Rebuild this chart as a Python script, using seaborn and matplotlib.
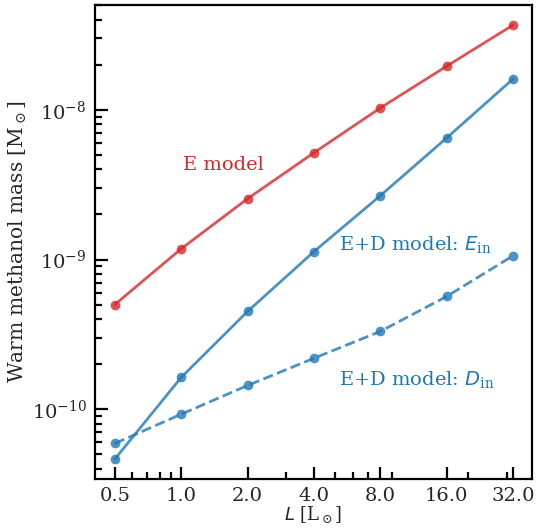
import matplotlib
matplotlib.use("Agg")
import matplotlib.pyplot as plt
import matplotlib.ticker as mticker
import seaborn as sns
import pandas as pd

# luminosities (L_sun)
lum = [0.5, 1.0, 2.0, 4.0, 8.0, 16.0, 32.0]
# warm methanol mass (M_sun)
mass_e = [5.0e-10, 1.18e-9, 2.55e-9, 5.17e-9, 1.03e-8, 1.96e-8, 3.69e-8]
mass_ed_ein = [4.64e-11, 1.63e-10, 4.5e-10, 1.13e-9, 2.67e-9, 6.5e-9, 1.61e-8]
mass_ed_din = [5.9e-11, 9.26e-11, 1.44e-10, 2.19e-10, 3.31e-10, 5.67e-10, 1.06e-9]
xtick_labels = ["0.5", "1.0", "2.0", "4.0", "8.0", "16.0", "32.0"]

sns.set_style("ticks")
plt.rcParams["font.family"] = ["DejaVu Serif"]
plt.rcParams["mathtext.default"] = "regular"
plt.rcParams["axes.edgecolor"] = "black"
plt.rcParams["axes.linewidth"] = 1.6

red = "#d62728"
blue = "#1f77b4"

df = pd.DataFrame({"L": lum, "E": mass_e, "Ein": mass_ed_ein, "Din": mass_ed_din})

fig, ax = plt.subplots(figsize=(5.39, 5.3), dpi=100)
sns.lineplot(data=df, x="L", y="E", ax=ax, color=red, lw=2, marker="o",
             markersize=7, markeredgewidth=0, alpha=0.8)
sns.lineplot(data=df, x="L", y="Ein", ax=ax, color=blue, lw=2, marker="o",
             markersize=7, markeredgewidth=0, alpha=0.8)
sns.lineplot(data=df, x="L", y="Din", ax=ax, color=blue, lw=2, marker="o",
             markersize=7, markeredgewidth=0, alpha=0.8, linestyle="--")

ax.set_xscale("log")
ax.set_yscale("log")
ax.set_xlim(0.406, 39.0)
ax.set_ylim(3.41e-11, 5.0e-8)
ax.tick_params(which="both", direction="in", color="black", width=1.6,
               bottom=True, left=True, top=False, right=False)
ax.tick_params(which="major", length=9, labelsize=14, pad=6)
ax.tick_params(which="minor", length=5)

# usual log minor ticks (2..9 per decade)
xminor = [m * 10.0 ** e for e in (-1, 0, 1) for m in range(2, 10)]
ax.xaxis.set_minor_locator(mticker.FixedLocator(xminor))
ax.xaxis.set_minor_formatter(mticker.NullFormatter())
ax.set_xticks(lum, xtick_labels)
ax.yaxis.set_minor_locator(mticker.LogLocator(base=10, subs=range(2, 10), numticks=20))

ax.text(1.02, 4.3e-9, "E model", color=red, fontsize=14, va="center")
ax.text(5.2, 1.26e-9, r"E+D model: $\mathit{E}_{\mathregular{in}}$", color=blue,
        fontsize=14, va="center")
ax.text(5.2, 1.58e-10, r"E+D model: $\mathit{D}_{\mathregular{in}}$", color=blue,
        fontsize=14, va="center")

ax.set_xlabel(r"$\mathit{L}$ [L$_\odot$]", fontsize=13, labelpad=-1)
ax.set_ylabel(r"Warm methanol mass [M$_\odot$]", fontsize=14.5, labelpad=2)

fig.subplots_adjust(left=0.176, right=0.987, top=0.99, bottom=0.096)
fig.savefig("out.png")
plt.close()
